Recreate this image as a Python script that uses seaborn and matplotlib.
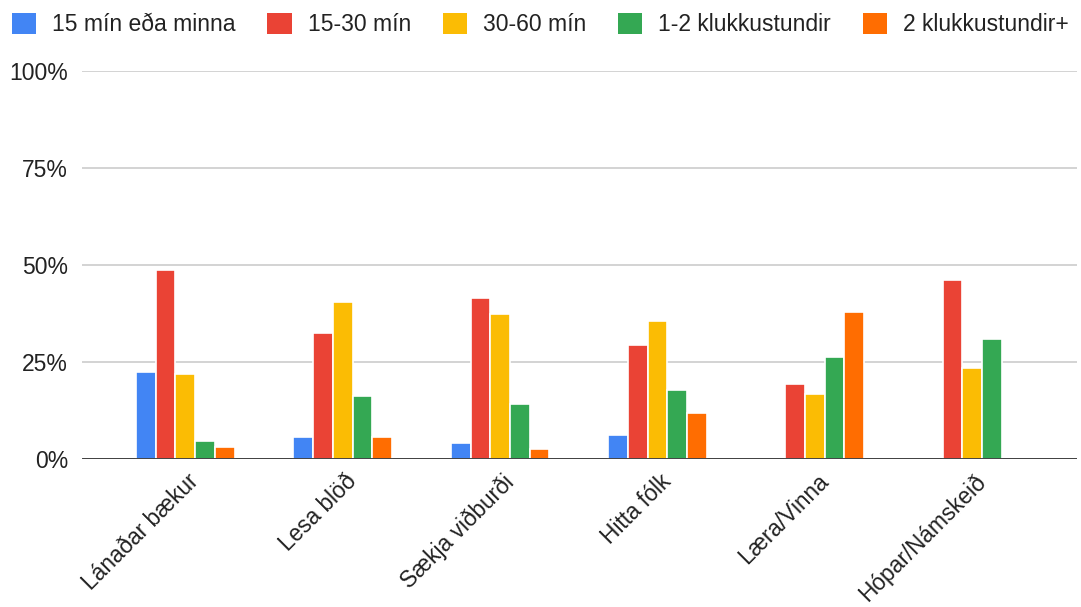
import numpy as np
import pandas as pd
import seaborn as sns
import matplotlib.pyplot as plt
import matplotlib.transforms as mtransforms
from matplotlib.patches import Patch

# Categories and series (percent)
categories = ["Lánaðar bækur", "Lesa blöð", "Sækja viðburði",
              "Hitta fólk", "Læra/Vinna", "Hópar/Námskeið"]
series = ["15 mín eða minna", "15-30 mín", "30-60 mín",
          "1-2 klukkustundir", "2 klukkustundir+"]

min_15 = [22.3, 5.6, 4.1, 6.2, np.nan, np.nan]
min_15_30 = [48.6, 32.5, 41.5, 29.4, 19.3, 46.1]
min_30_60 = [21.8, 40.5, 37.5, 35.5, 16.8, 23.4]
hours_1_2 = [4.6, 16.2, 14.3, 17.8, 26.4, 30.9]
hours_2_plus = [3.1, 5.6, 2.6, 11.8, 38.0, np.nan]

colors = ["#4285F4", "#EA4335", "#FBBC04", "#34A853", "#FF6D01"]

yticks = [0, 25, 50, 75, 100]
ytick_labels = ["0%", "25%", "50%", "75%", "100%"]

# long-form table for seaborn
values = [min_15, min_15_30, min_30_60, hours_1_2, hours_2_plus]
rows = []
for s, vals in zip(series, values):
    for c, v in zip(categories, vals):
        rows.append({"category": c, "series": s, "pct": v})
df = pd.DataFrame(rows).dropna()

sns.set_style("white")
plt.rcParams['font.family'] = ['Liberation Sans', 'DejaVu Sans']

fig = plt.figure(figsize=(10.81, 6.07), dpi=100)
ax = fig.add_axes([0.0759, 0.2438, 0.9204, 0.6392])

sns.barplot(data=df, x="category", y="pct", hue="series",
            order=categories, hue_order=series, palette=colors,
            width=0.626, dodge=True, edgecolor="white", linewidth=1.2,
            saturation=1, ax=ax, legend=False)

ax.set_xlim(-0.656, 5.665)
ax.set_ylim(0, 100)
ax.set_yticks(yticks)
ax.set_yticklabels(ytick_labels, fontsize=16.5, color="#222222")
ax.yaxis.grid(True, color="#cccccc", linewidth=1.2)
ax.set_axisbelow(True)
ax.axhline(0, color="#333333", linewidth=2, zorder=5)
for sp in ax.spines.values():
    sp.set_visible(False)
ax.tick_params(axis="both", length=0)
ax.tick_params(axis="y", pad=10)
ax.set_xlabel("")
ax.set_ylabel("")

ax.set_xticks(range(len(categories)))
ax.set_xticklabels(categories, fontsize=16.3, color="#222222",
                   rotation=45, ha="right", rotation_mode="anchor")
ax.tick_params(axis="x", pad=8)
shift = mtransforms.ScaledTranslation(2 / 100, 0, fig.dpi_scale_trans)
for lbl in ax.get_xticklabels():
    lbl.set_transform(lbl.get_transform() + shift)

# legend across the top
handles = [Patch(facecolor=c, edgecolor="none") for c in colors]
fig.legend(handles, series, loc="upper left",
           bbox_to_anchor=(12 / 1081, 1 - 13 / 607),
           ncol=5, frameon=False, fontsize=16.5, borderpad=0,
           borderaxespad=0, handlelength=1.06, handleheight=1.0,
           handletextpad=0.7, columnspacing=1.38,
           labelcolor="#222222")

fig.savefig("out.png", dpi=100)
